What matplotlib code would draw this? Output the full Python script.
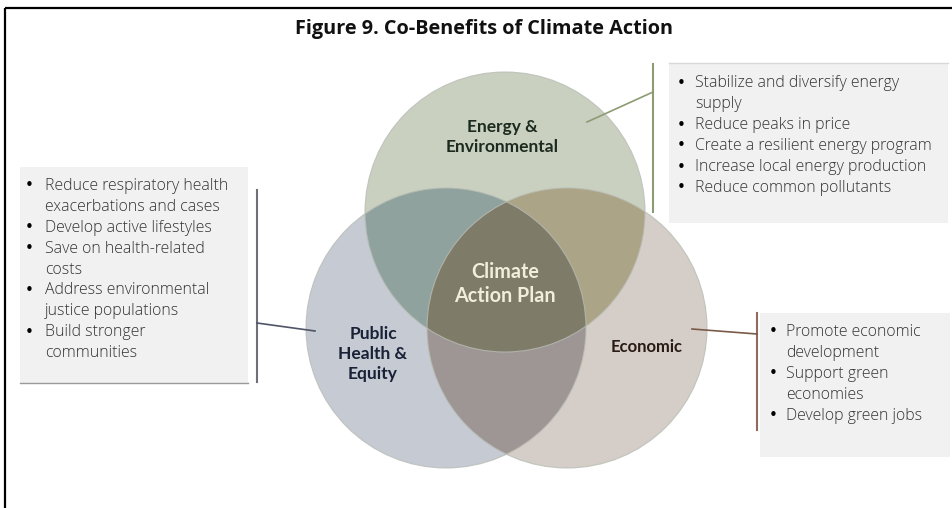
import numpy as np
import matplotlib
matplotlib.use('Agg')
import matplotlib.pyplot as plt
from matplotlib.patches import Circle, Polygon, Rectangle

# 图表文字与数据
title = 'Figure 9. Co-Benefits of Climate Action'
circle_labels = ['Energy &\nEnvironmental', 'Public\nHealth &\nEquity', 'Economic']
center_label = 'Climate\nAction Plan'

energy_items = [
    'Stabilize and diversify energy\nsupply',
    'Reduce peaks in price',
    'Create a resilient energy program',
    'Increase local energy production',
    'Reduce common pollutants',
]
health_items = [
    'Reduce respiratory health\nexacerbations and cases',
    'Develop active lifestyles',
    'Save on health-related\ncosts',
    'Address environmental\njustice populations',
    'Build stronger\ncommunities',
]
economic_items = [
    'Promote economic\ndevelopment',
    'Support green\neconomies',
    'Develop green jobs',
]

# 圆的位置（像素坐标）
centers = np.array([[505, 212], [446, 328], [567, 328]])
radius = 140
single_colors = ['#c9d0c0', '#c5cad3', '#d5cdc7']
pair_colors = {(0, 1): '#8fa29e', (0, 2): '#aba486', (1, 2): '#9d9694'}
triple_color = '#7e7b69'


def region_poly(idx):
    """求若干圆的交集区域（凸区域）边界点"""
    pts = []
    t = np.linspace(0, 2 * np.pi, 1440)
    for i in idx:
        cx, cy = centers[i]
        px = cx + radius * np.cos(t)
        py = cy + radius * np.sin(t)
        keep = np.ones_like(t, dtype=bool)
        for j in idx:
            if j == i:
                continue
            d = np.hypot(px - centers[j][0], py - centers[j][1])
            keep &= d <= radius + 1e-6
        pts.append(np.column_stack([px[keep], py[keep]]))
    pts = np.vstack(pts)
    m = pts.mean(axis=0)
    ang = np.arctan2(pts[:, 1] - m[1], pts[:, 0] - m[0])
    return pts[np.argsort(ang)]


fig = plt.figure(figsize=(9.53, 5.08), dpi=100)
ax = fig.add_axes([0, 0, 1, 1])
ax.set_xlim(0, 953)
ax.set_ylim(508, 0)
ax.axis('off')

# 外框
ax.plot([5, 953], [8, 8], color='black', lw=1.6, solid_capstyle='butt')
ax.plot([5, 5], [8, 508], color='black', lw=1.6, solid_capstyle='butt')

ax.text(484, 29, title, ha='center', va='center', fontsize=14.3,
        fontweight='bold', family='Open Sans', color='#111111')

# 韦恩图
for c, col in zip(centers, single_colors):
    ax.add_patch(Circle(c, radius, facecolor=col, edgecolor='none', zorder=2))
for (i, j), col in pair_colors.items():
    ax.add_patch(Polygon(region_poly([i, j]), closed=True, facecolor=col,
                         edgecolor='none', zorder=3))
ax.add_patch(Polygon(region_poly([0, 1, 2]), closed=True, facecolor=triple_color,
                     edgecolor='none', zorder=4))
for c in centers:
    ax.add_patch(Circle(c, radius, facecolor='none', edgecolor='#b9bdb5',
                        lw=0.8, alpha=0.8, zorder=5))

lab_font = dict(family='Lato', fontweight='bold', ha='center', va='center',
                linespacing=1.32, zorder=6)
ax.text(502, 137, circle_labels[0], fontsize=12.5, color='#1c2a1f', **lab_font)
ax.text(373, 354, circle_labels[1], fontsize=12.5, color='#1a2136', **lab_font)
ax.text(647, 347, circle_labels[2], fontsize=12, color='#2a1a14', **lab_font)
ax.text(505, 284, center_label, fontsize=14.2, color='#f1eedc',
        family='Lato', fontweight='bold', ha='center', va='center',
        linespacing=1.3, zorder=6)

# 说明框
def bullet_box(x0, y0, x1, y1, items, bx, tx, ty, step):
    ax.add_patch(Rectangle((x0, y0), x1 - x0, y1 - y0, facecolor='#f1f1f1',
                           edgecolor='none', zorder=1))
    y = ty
    for it in items:
        ax.text(bx, y, '•', fontsize=11, color='black', ha='left', va='center',
                family='DejaVu Sans', zorder=7)
        for line in it.split('\n'):
            ax.text(tx, y, line, fontsize=11.4, color='#333333', ha='left',
                    va='center', family='Open Sans', fontweight='light', zorder=7)
            y += step


bullet_box(669, 63, 948, 223, energy_items, 677, 695, 83, 21)
ax.plot([669, 948], [63, 63], color='#d8d8d8', lw=1, zorder=1)
bullet_box(20, 167, 248, 383, health_items, 25, 45, 186, 20.9)
ax.plot([20, 248], [383, 383], color='#9a9a9a', lw=1, zorder=1)
bullet_box(760, 313, 950, 457, economic_items, 769, 786, 332, 21)

# 连接线
ax.plot([653, 653], [64, 212], color='#8d9b72', lw=1.5, zorder=6)
ax.plot([587, 653], [122, 92], color='#8d9b72', lw=1.2, zorder=6)
ax.plot([257, 257], [190, 382], color='#6f6f78', lw=1.5, zorder=6)
ax.plot([257, 315], [323, 331], color='#4f5566', lw=1.2, zorder=6)
ax.plot([757, 757], [313, 430], color='#8c6d5c', lw=1.5, zorder=6)
ax.plot([692, 757], [329, 334], color='#7a5a48', lw=1.2, zorder=6)

fig.savefig('out.png', dpi=100)
